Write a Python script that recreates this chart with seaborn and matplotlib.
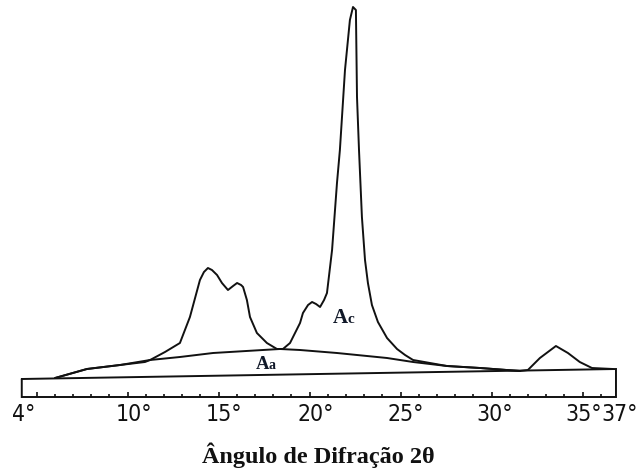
import numpy as np
import pandas as pd
import matplotlib
matplotlib.use("Agg")
import matplotlib.pyplot as plt
from matplotlib import font_manager
import seaborn as sns

# Diffraction angle 2θ (degrees) and intensity (arbitrary units) of the full trace
two_theta = [6.01, 7.76, 9.58, 10.95, 11.23, 12.05, 12.87, 13.42, 13.97, 14.19,
             14.41, 14.63, 14.91, 15.18, 15.51, 15.79, 16.01, 16.23, 16.34, 16.55,
             16.72, 17.10, 17.65, 18.20, 18.53, 18.92, 19.47, 19.63, 19.91, 20.13,
             20.35, 20.57, 20.79, 20.95, 21.23, 21.50, 21.66, 21.94, 22.21, 22.38,
             22.54, 22.60, 22.71, 22.87, 23.04, 23.20, 23.42, 23.75, 24.25, 24.80,
             25.24, 25.68, 27.54, 29.36, 31.55, 31.99, 32.65, 33.53, 34.19, 34.84,
             35.51, 36.66]
intensity = [19, 28, 32, 35, 37, 45, 54, 80, 117, 125,
             129, 127, 122, 114, 107, 111, 114, 112, 110, 97,
             80, 64, 54, 48, 48, 54, 74, 84, 92, 95,
             93, 90, 97, 104, 147, 214, 247, 327, 377, 390,
             387, 300, 247, 180, 137, 114, 92, 75, 59, 48,
             42, 37, 31, 29, 26, 27, 39, 51, 44, 35,
             29, 28]

# Amorphous halo boundary (area Aa lies beneath it)
amorph_theta = [6.01, 7.76, 9.58, 11.23, 12.87, 14.69, 17.43, 18.37, 19.47,
                21.50, 24.25, 25.68, 27.54, 29.36, 31.55]
amorph_int = [19, 28, 32, 37, 40, 44, 47, 48, 47,
              44, 39, 35, 31, 29, 26]

# Instrument baseline strip
strip_theta = [4.18, 36.83]
strip_top = [18, 28]

tick_values = np.arange(5, 37)
label_values = [4, 10, 15, 20, 25, 30, 35, 37]
label_texts = ["4°", "10°", "15°", "20°", "25°", "30°", "35°", "37°"]
x_title = "Ângulo de Difração 2θ"

sns.set_style("white")

# pick an upright, regular-weight narrow sans face for the angle labels
narrow = None
for f in font_manager.fontManager.ttflist:
    n = f.name.lower()
    is_narrow = "narrow" in n or "condensed" in n or f.stretch == "condensed"
    if is_narrow and f.style == "normal" and f.weight in (400, "normal", "regular", "book"):
        if "mono" in n or "serif" in n:
            continue
        narrow = f
        break

fig = plt.figure(figsize=(6.38, 4.69), dpi=100)
ax = fig.add_axes([0, 0, 1, 1])

ink = "#111111"

# baseline strip: bottom edge, sides and sloped top edge
x0, x1 = strip_theta
y0, y1 = strip_top
ax.plot([x0, x0, x1, x1, x0], [y0, 0, 0, y1, y0], color=ink, lw=1.4,
        solid_joinstyle="miter")

# degree ticks rising from the strip's bottom edge
tick_len = np.where(tick_values % 5 == 0, 5.0, 3.0)
ax.vlines(tick_values, 0, tick_len, color=ink, lw=1.2)

df_total = pd.DataFrame({"two_theta": two_theta, "intensity": intensity})
df_amorph = pd.DataFrame({"two_theta": amorph_theta, "intensity": amorph_int})
sns.lineplot(data=df_total, x="two_theta", y="intensity", sort=False,
             estimator=None, color=ink, lw=1.4, ax=ax)
sns.lineplot(data=df_amorph, x="two_theta", y="intensity", sort=False,
             estimator=None, color=ink, lw=1.4, ax=ax)
ax.set_xlim(2.984, 38.04)
ax.set_ylim(-72, 397)
ax.axis("off")

# tick labels: digits centred on the tick, degree sign hanging to the right
if narrow is not None:
    lab_kw = dict(fontproperties=font_manager.FontProperties(fname=narrow.fname, size=16.5))
else:
    lab_kw = dict(family="DejaVu Sans", fontsize=13)
label_dx = {4: 3.5, 10: 4.5, 15: 3.5, 20: 4.5, 25: 3.5, 30: 2.5, 35: 1.0, 37: 0.5}
for v, t in zip(label_values, label_texts):
    ax.annotate(t, xy=(v, -17), xytext=(label_dx[v], 0), textcoords="offset points",
                ha="center", va="center", color=ink, **lab_kw)

serif = ["Liberation Serif", "DejaVu Serif"]
ax.text(20.5, -58, x_title, ha="center", va="center", fontsize=17.5,
        fontweight="bold", family=serif, color=ink)

# area labels: crystalline (Ac) and amorphous (Aa)
ax.text(21.28, 74, "A", fontsize=15, fontweight="bold", family=serif,
        color="#101828", ha="left", va="baseline")
ax.text(22.10, 74, "c", fontsize=11, fontweight="bold", family=serif,
        color="#101828", ha="left", va="baseline")
ax.text(17.05, 28, "A", fontsize=13.5, fontweight="bold", family=serif,
        color="#101828", ha="left", va="baseline")
ax.text(17.71, 28, "a", fontsize=10, fontweight="bold", family=serif,
        color="#101828", ha="left", va="baseline")

fig.savefig("out.png", dpi=100)
